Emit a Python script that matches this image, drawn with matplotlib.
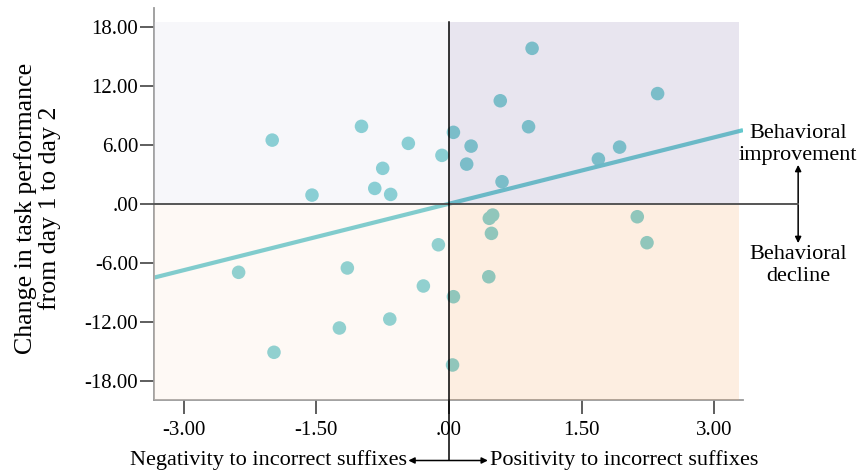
import matplotlib
matplotlib.use("Agg")
import matplotlib.pyplot as plt
from matplotlib.patches import Rectangle
import numpy as np

plt.rcParams['font.family'] = ['Liberation Serif', 'DejaVu Serif']

# ---- data ----
x_vals = [-2.00, -0.99, -0.46, -0.08, -0.75, -0.84, -0.66, -1.55, 0.05,
          0.94, 2.36, 0.58, 0.90, 0.25, 0.20, 0.60, 1.69, 1.93,
          -2.38, -1.15, -0.12, -0.29, -0.67, -1.24, -1.98, 0.05, 0.04,
          0.456, 0.494, 0.48, 0.45, 2.13, 2.24]
y_vals = [6.47, 7.87, 6.14, 4.92, 3.60, 1.56, 0.95, 0.88, 7.26,
          15.80, 11.20, 10.47, 7.83, 5.86, 4.03, 2.24, 4.54, 5.76,
          -6.97, -6.53, -4.17, -8.36, -11.72, -12.63, -15.10, -9.45, -16.39,
          -1.48, -1.15, -3.01, -7.42, -1.32, -3.96]
fit_slope = 2.25
fit_intercept = 0.0
x_ticks = [-3.0, -1.5, 0.0, 1.5, 3.0]
x_ticklabels = ['-3.00', '-1.50', '.00', '1.50', '3.00']
y_ticks = [-18, -12, -6, 0, 6, 12, 18]
y_ticklabels = ['-18.00', '-12.00', '-6.00', '.00', '6.00', '12.00', '18.00']
ylabel = 'Change in task performance\nfrom day 1 to day 2'
xlabel_neg = 'Negativity to incorrect suffixes'
xlabel_pos = 'Positivity to incorrect suffixes'
up_text = 'Behavioral\nimprovement'
down_text = 'Behavioral\ndecline'

W, H = 860, 473
fig = plt.figure(figsize=(W / 100, H / 100), dpi=100)
L, R, T, B = 154.3, 743, 8, 400
ax = fig.add_axes([L / W, 1 - B / H, (R - L) / W, (B - T) / H])

xmin, xmax = -3.334, 3.326
ymin, ymax = -19.95, 19.9
ax.set_xlim(xmin, xmax)
ax.set_ylim(ymin, ymax)
bg_top = 18.5
bg_right = 3.28

# points and fit line (below tinted overlays)
pt_color = '#78cdd0'
ax.scatter(x_vals, y_vals, s=95, color=pt_color, edgecolors='none', zorder=2)
xx = np.array([xmin, xmax])
ax.plot(xx, fit_slope * xx + fit_intercept, color='#64c8cd', lw=3, zorder=2,
        solid_capstyle='butt')

# quadrant overlays
a = 0.2
def ov(c):
    return tuple(255 - (255 - v) / a for v in c)
quads = [
    ((xmin, 0), 0 - xmin, bg_top, (247, 247, 250)),
    ((0, 0), bg_right, bg_top, (232, 229, 239)),
    ((xmin, ymin), 0 - xmin, -ymin, (254, 249, 245)),
    ((0, ymin), bg_right, -ymin, (253, 238, 225)),
]
for (x0, y0), w, h, c in quads:
    col = tuple(max(0, min(255, v)) / 255 for v in ov(c))
    ax.add_patch(Rectangle((x0, y0), w, h, facecolor=col, alpha=a,
                           edgecolor='none', zorder=3))

# reference lines
ax.plot([xmin, 3.95], [0, 0], color='#555555', lw=1.4, zorder=4, clip_on=False)
ax.plot([0, 0], [bg_top, -26.1], color='black', lw=1.1, zorder=4, clip_on=False)

# arrows
arrow_kw = dict(arrowstyle='<|-|>', color='black', lw=1.1, mutation_scale=9,
                shrinkA=0, shrinkB=0)
ax.annotate('', xy=(3.95, 3.95), xytext=(3.95, -4.0), xycoords='data',
            arrowprops=arrow_kw, annotation_clip=False)
ax.annotate('', xy=(-0.46, -26.1), xytext=(0.44, -26.1), xycoords='data',
            arrowprops=arrow_kw, annotation_clip=False)

# side texts
ax.text(3.95, 6.0, up_text, ha='center', va='center', fontsize=16,
        linespacing=1.2, clip_on=False)
ax.text(3.95, -6.3, down_text, ha='center', va='center', fontsize=16,
        linespacing=1.2, clip_on=False)
ax.text(-0.47, -26.1, xlabel_neg, ha='right', va='center', fontsize=16,
        clip_on=False)
ax.text(0.46, -26.1, xlabel_pos, ha='left', va='center', fontsize=16,
        clip_on=False)

fig.text(37.5 / W, 1 - 208 / H, ylabel, rotation=90, ha='center', va='center',
         fontsize=18.6, linespacing=1.1, multialignment='center')

# axes styling
for s in ['top', 'right']:
    ax.spines[s].set_visible(False)
for s in ['left', 'bottom']:
    ax.spines[s].set_color('#9a9a9a')
    ax.spines[s].set_linewidth(1.3)
ax.set_xticks(x_ticks)
ax.set_xticklabels(x_ticklabels)
ax.set_yticks(y_ticks)
ax.set_yticklabels(y_ticklabels)
ax.tick_params(axis='x', direction='out', length=10, width=1.1, color='#333333',
               pad=5, labelsize=15)
ax.tick_params(axis='y', direction='out', length=10, width=1.1, color='#333333',
               pad=1.5, labelsize=15)

fig.savefig('out.png', dpi=100)
